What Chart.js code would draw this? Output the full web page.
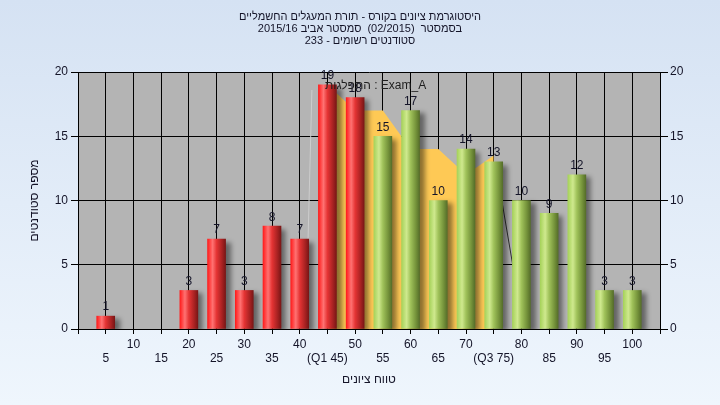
<!DOCTYPE html>
<html>
<head>
<meta charset="utf-8">
<script src="https://cdn.jsdelivr.net/npm/chart.js@4.4.1/dist/chart.umd.min.js"></script>
<style>
html,body{margin:0;padding:0;width:720px;height:405px;overflow:hidden;background:#e4edf8;}
#wrap{position:relative;width:720px;height:405px;}
</style>
</head>
<body>
<div id="wrap"><canvas id="c" width="720" height="405"></canvas></div>
<script>
// ---- data ----
const grades = [5,10,15,20,25,30,35,40,45,50,55,60,65,70,75,80,85,90,95,100];
const counts = [1,0,0,3,7,3,8,7,19,18,15,17,10,14,13,10,9,12,3,3];
const tickLabels = ['5','10','15','20','25','30','35','40','(Q1 45)','50','55','60','65','70','(Q3 75)','80','85','90','95','100'];
const redLimit = 50;
const areaX = [45,50,55,60,65,70,75];
const areaY = [19,17,17,14,14,12,13.5];
const edgeLeftX = [41.5,42.2];
const edgeLeftY = [6.9,18.6];
const edgeRightX = [76.5,78.5];
const edgeRightY = [9.9,4.8];
const titleLines = ['היסטוגרמת ציונים בקורס - תורת המעגלים החשמליים','בסמסטר  (02/2015)  סמסטר אביב 2015/16','סטודנטים רשומים - 233'];
const yTitle = 'מספר סטודנטים';
const xTitle = 'טווח ציונים';
const noteText = 'התפלגות : Exam_A';

const FONT = "'Liberation Sans', Arial, 'DejaVu Sans', sans-serif";
const TXT = '#141428';

const barData = grades.map((g,i)=>({x:g,y:counts[i]}));
const areaData = areaX.map((x,i)=>({x:x,y:areaY[i]}));
const edgeL = edgeLeftX.map((x,i)=>({x:x,y:edgeLeftY[i]}));
const edgeR = edgeRightX.map((x,i)=>({x:x,y:edgeRightY[i]}));

function barFill(ctx){
  if(ctx.type!=='data') return '#e02020';
  if(!ctx.raw || ctx.raw.y===0) return 'rgba(0,0,0,0)';
  const isRed = ctx.raw.x <= redLimit;
  const chart = ctx.chart;
  if(!chart.chartArea || !chart.scales.x) return isRed ? '#e02020' : '#98c050';
  const px = chart.scales.x.getPixelForValue(ctx.raw.x);
  const g = chart.ctx.createLinearGradient(px-9,0,px+9,0);
  if(isRed){
    g.addColorStop(0,'#ff1c1c');
    g.addColorStop(0.28,'#ff7272');
    g.addColorStop(0.5,'#e53434');
    g.addColorStop(0.8,'#a82222');
    g.addColorStop(1,'#7a1616');
  } else {
    g.addColorStop(0,'#a6d25a');
    g.addColorStop(0.28,'#cfe98e');
    g.addColorStop(0.5,'#a0c25a');
    g.addColorStop(0.8,'#74923a');
    g.addColorStop(1,'#566e2a');
  }
  return g;
}

const bgPlugin = {
  id:'bg',
  beforeDraw(chart){
    const c = chart.ctx, a = chart.chartArea;
    const g = c.createLinearGradient(0,0,0,chart.height);
    g.addColorStop(0,'#d5e2f3');
    g.addColorStop(1,'#eff6fd');
    c.save();
    c.fillStyle = g;
    c.fillRect(0,0,chart.width,chart.height);
    c.fillStyle = '#b4b4b4';
    c.fillRect(a.left,a.top,a.right-a.left,a.bottom-a.top);
    c.restore();
  },
  beforeDatasetDraw(chart,args){
    if(args.index===0){
      const c = chart.ctx;
      c.save();
      c.shadowColor='rgba(0,0,0,0.45)';
      c.shadowBlur=5;
      c.shadowOffsetX=5;
      c.shadowOffsetY=3;
    }
  },
  afterDatasetDraw(chart,args){
    if(args.index===0){
      chart.ctx.restore();
      const c = chart.ctx;
      const meta = chart.getDatasetMeta(0);
      c.save();
      c.font = '12px '+FONT;
      c.fillStyle = TXT;
      c.textAlign='center';
      c.textBaseline='bottom';
      meta.data.forEach((el,i)=>{
        if(counts[i]>0) c.fillText(String(counts[i]), el.x, el.y-3);
      });
      c.restore();
    }
  },
  afterDraw(chart){
    const c = chart.ctx;
    c.save();
    c.font = '11px '+FONT;
    c.fillStyle = TXT;
    c.direction = 'rtl';
    c.textAlign='center';
    c.textBaseline='middle';
    titleLines.forEach((t,i)=>c.fillText(t,360,17+i*12));
    c.direction = 'ltr';
    c.font = '12px '+FONT;
    c.textAlign='left';
    c.fillStyle='#1e1e1e';
    c.fillText(noteText,325,86);
    c.restore();
  }
};

new Chart(document.getElementById('c'),{
  type:'bar',
  data:{
    datasets:[
      {type:'bar',data:barData,backgroundColor:barFill,borderWidth:0,barThickness:18,order:0,xAxisID:'x',yAxisID:'y'},
      {type:'line',data:areaData,backgroundColor:'#fec955',borderWidth:0,fill:'origin',pointRadius:0,tension:0,order:1,xAxisID:'x',yAxisID:'y'},
      {type:'line',data:edgeL,borderColor:'#cdcdcd',borderWidth:1,fill:false,pointRadius:0,order:2,xAxisID:'x',yAxisID:'y'},
      {type:'line',data:edgeR,borderColor:'#303030',borderWidth:1,fill:false,pointRadius:0,order:2,xAxisID:'x',yAxisID:'y'}
    ]
  },
  plugins:[bgPlugin],
  options:{
    responsive:false,
    animation:false,
    events:[],
    layout:{padding:{top:72,left:0,right:0,bottom:0}},
    plugins:{legend:{display:false},tooltip:{enabled:false},title:{display:false}},
    scales:{
      x:{
        type:'linear',min:0,max:105,position:'bottom',offset:false,
        afterFit(s){s.height=76;},
        afterBuildTicks(s){s.ticks=[0].concat(grades).concat([105]).map(v=>({value:v}));},
        ticks:{autoSkip:false,maxRotation:0,minRotation:0,padding:3,color:TXT,font:{family:FONT,size:12},
          callback(v){const i=grades.indexOf(v); if(i<0) return ''; return (i%2===0)?['',tickLabels[i]]:tickLabels[i];}},
        grid:{color:'#000',lineWidth:1,tickLength:5,tickColor:'#000',drawOnChartArea:true,offset:false},
        border:{color:'#000',width:1},
        title:{display:true,text:xTitle,color:TXT,font:{family:FONT,size:12},padding:{top:0,bottom:18}}
      },
      y:{
        type:'linear',min:0,max:20,position:'left',
        afterFit(s){s.width=78;},
        ticks:{stepSize:5,padding:3,color:TXT,font:{family:FONT,size:12}},
        grid:{color:'#000',lineWidth:1,tickLength:7,tickColor:'#000'},
        border:{color:'#000',width:1},
        title:{display:true,text:yTitle,color:TXT,font:{family:FONT,size:12},padding:{top:27,bottom:0}}
      },
      y2:{
        type:'linear',min:0,max:20,position:'right',
        afterFit(s){s.width=60;},
        ticks:{stepSize:5,padding:2,color:TXT,font:{family:FONT,size:12}},
        grid:{drawOnChartArea:false,tickLength:8,tickColor:'#000'},
        border:{color:'#000',width:1}
      }
    }
  }
});
</script>
</body>
</html>
